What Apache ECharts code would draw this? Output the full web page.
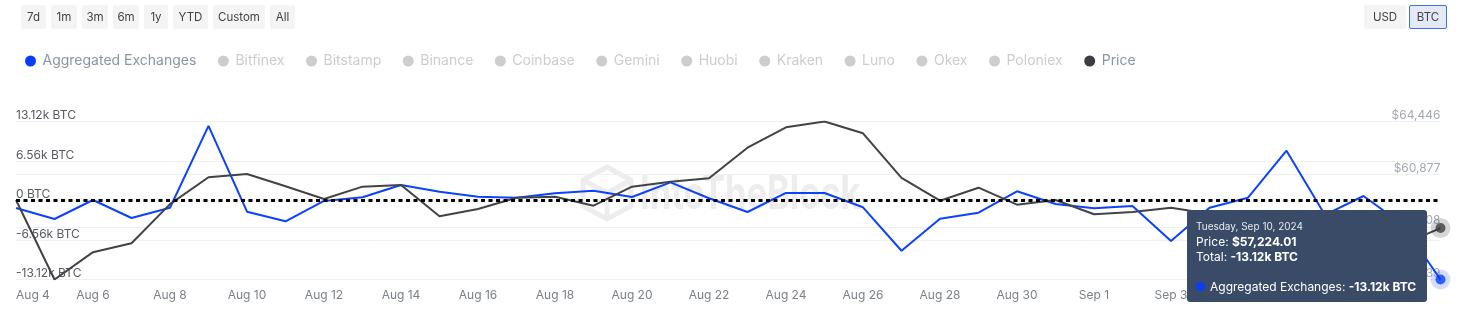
<!DOCTYPE html>
<html>
<head>
<meta charset="utf-8">
<title>Exchange Netflows</title>
<script src="https://cdn.jsdelivr.net/npm/echarts@6/dist/echarts.min.js"></script>
<style>
  html, body { margin: 0; padding: 0; background: #ffffff; }
  #wrap { position: relative; width: 1458px; height: 325px; overflow: hidden; font-family: Inter, "Noto Sans", sans-serif; }
  #chart { position: absolute; left: 0; top: 0; width: 1458px; height: 325px; }
  .bar { position: absolute; top: 5px; display: flex; gap: 5px; z-index: 2; }
  .btn { height: 24px; line-height: 24px; font-size: 11.5px; color: #3f4348; text-align: center;
         background: #f4f4f5; border-radius: 2px; box-sizing: border-box; white-space: nowrap; }
  .btn.on { background: #e4e9f5; border: 1px solid #3a74e0; line-height: 22px; }
</style>
</head>
<body>
<div id="wrap">
  <div id="chart"></div>
  <div class="bar" id="ranges" style="left:21px"></div>
  <div class="bar" id="units" style="right:11px; gap:3px"></div>
</div>
<script>
// Daily categories, Aug 4 – Sep 10, 2024
const YEAR = 2024;
const categories = [
  'Aug 4', 'Aug 5', 'Aug 6', 'Aug 7', 'Aug 8', 'Aug 9', 'Aug 10', 'Aug 11', 'Aug 12', 'Aug 13',
  'Aug 14', 'Aug 15', 'Aug 16', 'Aug 17', 'Aug 18', 'Aug 19', 'Aug 20', 'Aug 21', 'Aug 22', 'Aug 23',
  'Aug 24', 'Aug 25', 'Aug 26', 'Aug 27', 'Aug 28', 'Aug 29', 'Aug 30', 'Aug 31',
  'Sep 1', 'Sep 2', 'Sep 3', 'Sep 4', 'Sep 5', 'Sep 6', 'Sep 7', 'Sep 8', 'Sep 9', 'Sep 10'
];

// Aggregated exchange netflow, BTC per day
const aggregatedFlows = [
  -1250, -3070, 80, -2910, -1200, 12400, -1860, -3450, -80, 530,
  2570, 1460, 630, 470, 1200, 1630, 580, 3020, 370, -1910,
  1250, 1250, -1130, -8340, -3020, -2030, 1530, -580,
  -1300, -910, -6730, -1200, 470, 8270, -2400, 750, -3900, -13120
];

// BTC price, USD
const prices = [
  59130, 53739, 55590, 56200, 58850, 60665, 60890, 60055, 59195, 60030,
  60145, 58020, 58515, 59280, 59350, 58740, 60030, 60365, 60600, 62670,
  64055, 64446, 63645, 60620, 59080, 59960, 58810, 59130,
  58160, 58315, 58605, 58200, 56150, 53950, 54150, 54850, 56100, 57224.01
];

// Axis ticks
const flowMax = 13120;
const flowStep = 6560;
const priceTicks = [53739, 57308, 60877, 64446];

const exchanges = ['Bitfinex', 'Bitstamp', 'Binance', 'Coinbase', 'Gemini', 'Huobi', 'Kraken', 'Luno', 'Okex', 'Poloniex'];
const rangeButtons = ['7d', '1m', '3m', '6m', '1y', 'YTD', 'Custom', 'All'];
const unitButtons = ['USD', 'BTC'];
const activeUnit = 'BTC';

// button widths, px
const buttonWidth = { '7d': 25, '1m': 26, '3m': 26, '6m': 26, '1y': 24, 'YTD': 35, 'Custom': 52, 'All': 25, 'USD': 42, 'BTC': 38 };

const BLUE = '#0a3cff';
const DARK = '#3c3d41';
const last = categories.length - 1;

// Toolbar buttons
function addButton(parentId, t, active) {
  const b = document.createElement('div');
  b.className = 'btn' + (active ? ' on' : '');
  b.textContent = t;
  b.style.width = buttonWidth[t] + 'px';
  document.getElementById(parentId).appendChild(b);
}
rangeButtons.forEach(t => addButton('ranges', t, false));
unitButtons.forEach(t => addButton('units', t, t === activeUnit));

function fmtBtc(v) {
  if (v === 0) return '0 BTC';
  return (v / 1000).toFixed(2) + 'k BTC';
}
function fmtUsd(v, digits) {
  return '$' + v.toLocaleString('en-US', { minimumFractionDigits: digits, maximumFractionDigits: digits });
}

const chart = echarts.init(document.getElementById('chart'), null, { renderer: 'canvas' });

const legendSelected = {};
exchanges.forEach(n => { legendSelected[n] = false; });

const option = {
  animation: false,
  textStyle: { fontFamily: 'Inter, "Noto Sans", sans-serif' },
  legend: {
    data: ['Aggregated Exchanges'].concat(exchanges, ['Price']),
    selected: legendSelected,
    left: 20,
    top: 49,
    icon: 'circle',
    itemWidth: 14,
    itemHeight: 11,
    itemGap: 21.5,
    inactiveColor: '#cdcdcd',
    textStyle: { fontSize: 14, color: '#8a94a6' }
  },
  grid: { left: 16, right: 17.5, top: 121.5, bottom: 45.5 },
  xAxis: {
    type: 'category',
    data: categories,
    boundaryGap: false,
    axisLine: { show: false },
    axisTick: { show: false },
    splitLine: { show: false },
    axisLabel: { interval: 1, color: '#7b8089', fontSize: 12, margin: 10, alignMinLabel: 'left' }
  },
  yAxis: [
    {
      type: 'value',
      min: -flowMax, max: flowMax, interval: flowStep,
      axisLine: { show: false },
      axisTick: { show: false },
      splitLine: { lineStyle: { color: '#f0f0f0', width: 1 } },
      axisLabel: {
        inside: true, margin: 0, verticalAlign: 'bottom', padding: [0, 0, 0, 0],
        color: '#565a61', fontSize: 12, formatter: fmtBtc
      }
    },
    {
      type: 'value',
      position: 'right',
      min: priceTicks[0], max: priceTicks[priceTicks.length - 1],
      axisLine: { show: false },
      axisTick: { show: false, customValues: priceTicks },
      splitLine: { lineStyle: { color: '#f0f0f0', width: 1 } },
      axisLabel: {
        customValues: priceTicks,
        inside: true, margin: 0, verticalAlign: 'bottom', padding: [0, 0, 0, 0],
        color: '#a4a9b1', fontSize: 12, formatter: v => fmtUsd(v, 0)
      }
    }
  ],
  tooltip: {
    trigger: 'axis',
    triggerOn: 'none',
    alwaysShowContent: true,
    axisPointer: { type: 'none' },
    backgroundColor: '#394b67',
    borderWidth: 0,
    padding: [9, 9, 8, 9],
    transitionDuration: 0,
    textStyle: { fontFamily: 'Inter, "Noto Sans", sans-serif', color: '#ffffff' },
    extraCssText: 'border-radius:3px;box-shadow:none;width:240px;height:92px;box-sizing:border-box;',
    position: () => [1187, 210],
    formatter: params => {
      const p = params.find(s => s.seriesName === 'Aggregated Exchanges') || params[0];
      const i = p.dataIndex;
      const day = new Date(categories[i] + ', ' + YEAR).toLocaleDateString('en-US',
        { weekday: 'long', month: 'short', day: 'numeric', year: 'numeric' });
      const line = 'font-size:12px;line-height:15px;color:#ffffff;white-space:nowrap;';
      return '<div style="font-size:10px;line-height:15px;color:#e6e9ef;white-space:nowrap;">' + day + '</div>' +
        '<div style="' + line + '">Price: <b>' + fmtUsd(prices[i], 2) + '</b></div>' +
        '<div style="' + line + '">Total: <b>' + fmtBtc(aggregatedFlows[i]) + '</b></div>' +
        '<div style="height:15px"></div>' +
        '<div style="' + line + '"><span style="display:inline-block;width:9px;height:9px;border-radius:50%;background:' + BLUE +
        ';margin-right:5px;vertical-align:0px;"></span>Aggregated Exchanges: <b>' + fmtBtc(aggregatedFlows[i]) + '</b></div>';
    }
  },
  graphic: [
    {
      type: 'group', silent: true, z: 0,
      children: [
        {
          type: 'polygon',
          shape: { points: [[607, 167], [631, 180], [631, 206], [607, 219], [583, 206], [583, 180]] },
          style: { fill: 'none', stroke: '#ededed', lineWidth: 5 }
        },
        {
          type: 'polyline',
          shape: { points: [[583, 180], [607, 193], [631, 180]] },
          style: { fill: 'none', stroke: '#ededed', lineWidth: 5 }
        },
        {
          type: 'line',
          shape: { x1: 607, y1: 193, x2: 607, y2: 219 },
          style: { stroke: '#ededed', lineWidth: 5 }
        },
        {
          type: 'text',
          x: 640, y: 172, scaleX: 0.75,
          style: { text: 'IntoTheBlock', font: 'bold 46px Inter, sans-serif', fill: '#ededed', verticalAlign: 'top' }
        }
      ]
    }
  ],
  series: [
    {
      name: 'Aggregated Exchanges',
      type: 'line',
      data: aggregatedFlows,
      yAxisIndex: 0,
      symbol: 'none',
      lineStyle: { width: 2, color: BLUE },
      itemStyle: { color: BLUE },
      z: 3,
      markLine: {
        silent: true,
        symbol: 'none',
        label: { show: false },
        lineStyle: { type: [4, 3.5], width: 3, color: '#000000' },
        data: [{ yAxis: 0 }]
      }
    }
  ].concat(
    exchanges.map(n => ({ name: n, type: 'line', data: [], symbol: 'none' })),
    [
      {
        name: 'Price',
        type: 'line',
        data: prices,
        yAxisIndex: 1,
        symbol: 'none',
        lineStyle: { width: 2, color: DARK },
        itemStyle: { color: DARK },
        z: 3
      },
      // highlighted end points
      { type: 'scatter', yAxisIndex: 1, data: [[last, prices[last]]], symbolSize: 20, silent: true, z: 5,
        itemStyle: { color: 'rgba(0,0,0,0.2)' }, tooltip: { show: false } },
      { type: 'scatter', yAxisIndex: 1, data: [[last, prices[last]]], symbolSize: 10, silent: true, z: 6,
        itemStyle: { color: DARK }, tooltip: { show: false } },
      { type: 'scatter', yAxisIndex: 0, data: [[last, aggregatedFlows[last]]], symbolSize: 20, silent: true, z: 5,
        itemStyle: { color: 'rgba(10,60,255,0.22)' }, tooltip: { show: false } },
      { type: 'scatter', yAxisIndex: 0, data: [[last, aggregatedFlows[last]]], symbolSize: 10, silent: true, z: 6,
        itemStyle: { color: BLUE }, tooltip: { show: false } }
    ]
  )
};

chart.setOption(option);
chart.dispatchAction({ type: 'showTip', seriesIndex: 0, dataIndex: last });
</script>
</body>
</html>
